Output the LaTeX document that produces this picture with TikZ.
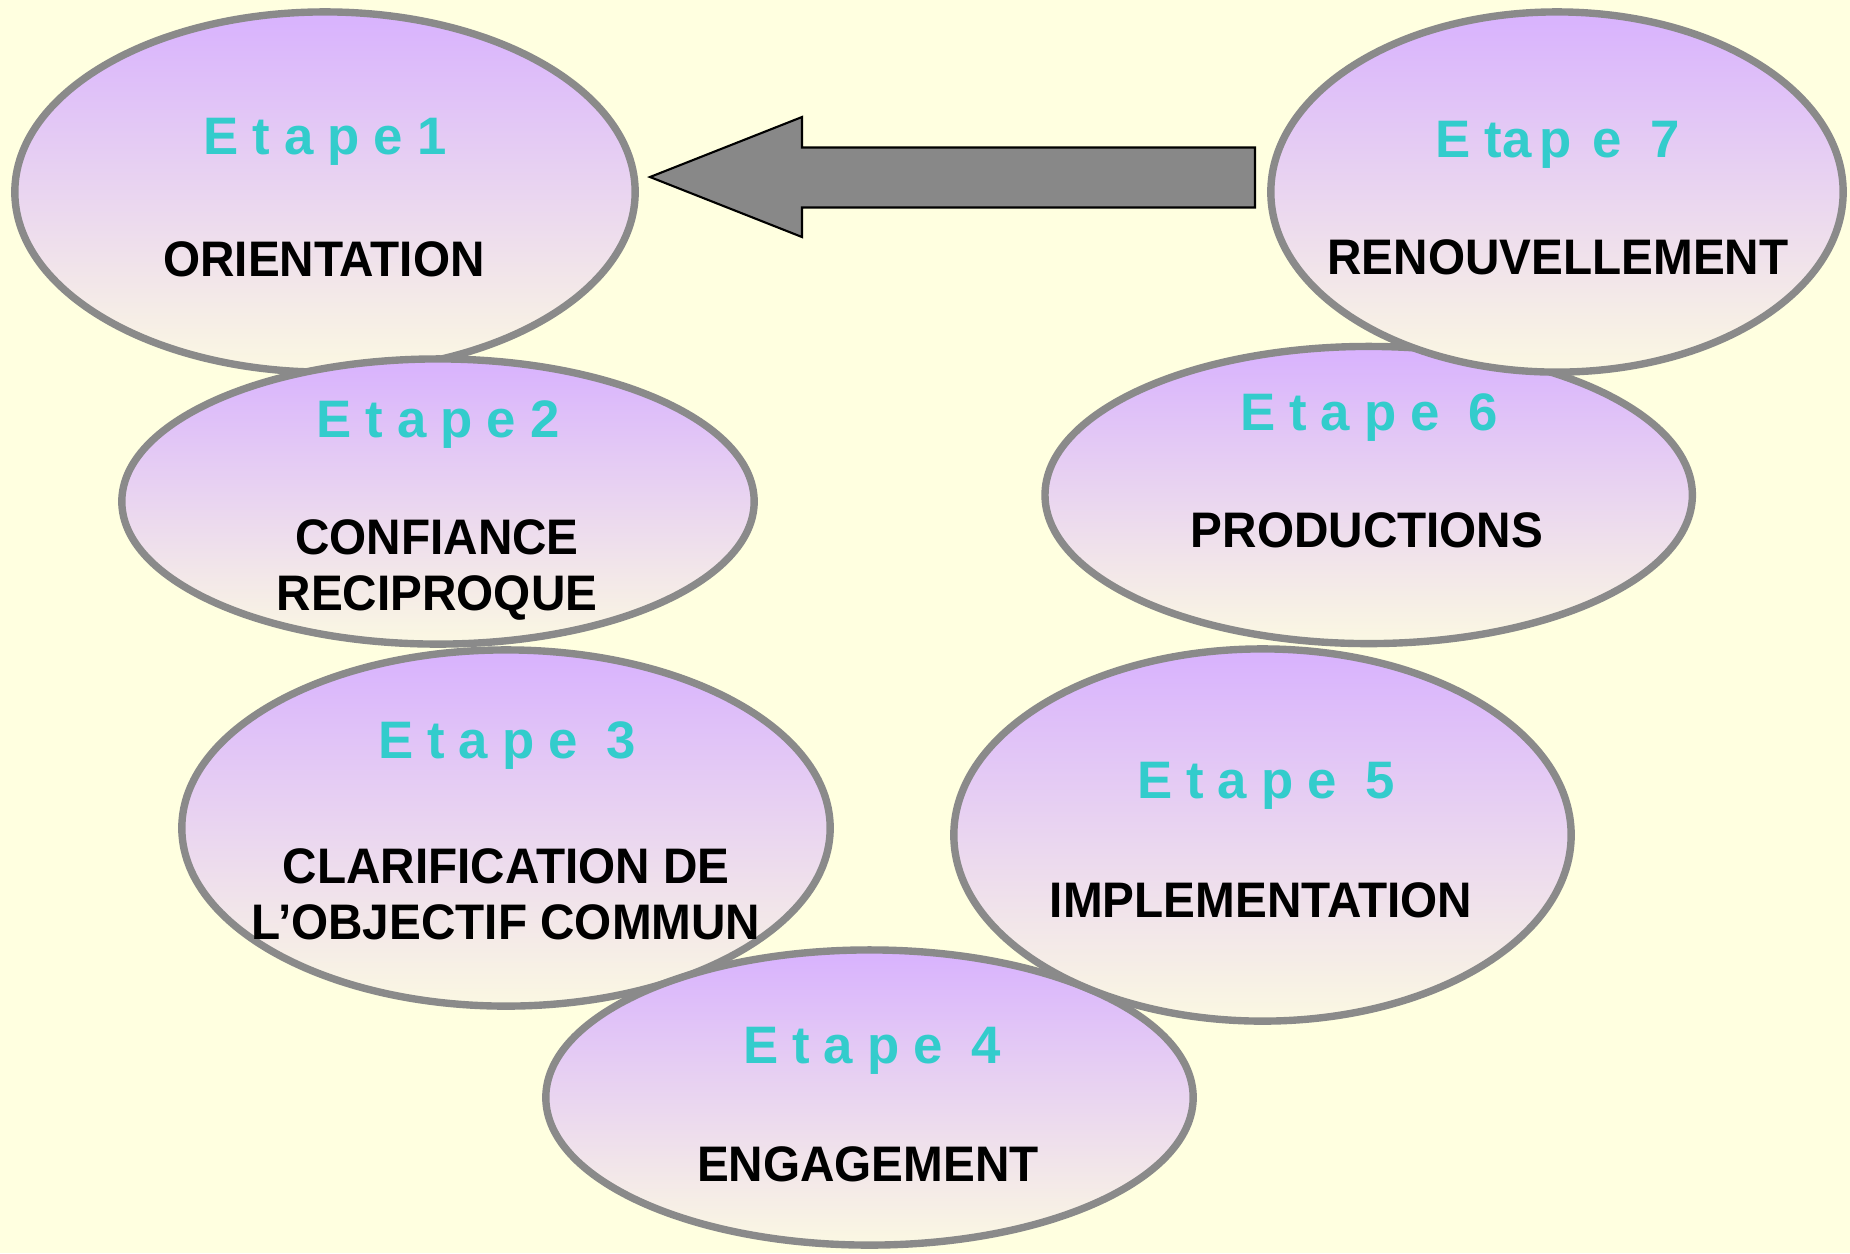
\documentclass[tikz,border=0pt]{standalone}
\usepackage{fontspec}
\setmainfont{Liberation Sans}
\newfontfamily\lblfont[FakeStretch=0.955]{Liberation Sans}
\usetikzlibrary{shapes.geometric}
\definecolor{bgc}{HTML}{FFFFE0}
\definecolor{ringc}{HTML}{8A8A8A}
\definecolor{topc}{HTML}{D8B2FE}
\definecolor{botc}{HTML}{FBF8E2}
\definecolor{stepc}{HTML}{33CCCC}
\definecolor{arrowc}{HTML}{888888}
\tikzset{
  stage/.style={ellipse, draw=ringc, line width=2.1pt, top color=topc, bottom color=botc, inner sep=0pt, outer sep=0pt},
  steplbl/.style={text=stepc, font=\fontsize{15}{18}\selectfont\bfseries, inner sep=0pt, anchor=base},
  namelbl/.style={text=black, font=\lblfont\fontsize{14.2}{16}\selectfont\bfseries, inner sep=0pt, align=center},
  bigarrow/.style={fill=arrowc, draw=black, line width=0.6pt},
}
\newcommand\gp{\hspace{4pt}}
\begin{document}
\begin{tikzpicture}[x=0.01cm,y=-0.01cm]
\fill[bgc] (0,0) rectangle (1850,1253);
\useasboundingbox (0,0) rectangle (1850,1253);

% Stage 1
\node[stage, minimum width=6.20cm, minimum height=3.60cm] (e1) at (325,192) {};
\node[steplbl] (s1) at (325,154) {E\gp t\gp a\gp p\gp e\gp 1};
\node[namelbl, anchor=base] (n1) at (324,276) {ORIENTATION};

% Stage 2
\node[stage, minimum width=6.32cm, minimum height=2.85cm] (e2) at (438,501.5) {};
\node[steplbl] (s2) at (438,437) {E\gp t\gp a\gp p\gp e\gp 2};
\node[namelbl, anchor=center] (n2) at (437,570) {CONFIANCE\\RECIPROQUE};

% Stage 3
\node[stage, minimum width=6.48cm, minimum height=3.56cm] (e3) at (506,828) {};
\node[steplbl] (s3) at (507,758) {E\gp t\gp a\gp p\gp e\gp\ 3};
\node[namelbl, anchor=center] (n3) at (506,894) {CLARIFICATION DE\\L’OBJECTIF COMMUN};

% Stage 4
\node[stage, minimum width=6.47cm, minimum height=2.95cm] (e4) at (869.5,1097.5) {};
\node[steplbl] (s4) at (872,1063) {E\gp t\gp a\gp p\gp e\gp\ 4};
\node[namelbl, anchor=base] (n4) at (868,1181) {ENGAGEMENT};

% Stage 5
\node[stage, minimum width=6.17cm, minimum height=3.72cm] (e5) at (1262.5,835) {};
\node[steplbl] (s5) at (1266,798) {E\gp t\gp a\gp p\gp e\gp\ 5};
\node[namelbl, anchor=base] (n5) at (1261,917) {IMPLEMENTATION};

% Stage 6
\node[stage, minimum width=6.47cm, minimum height=2.97cm] (e6) at (1368.7,495) {};
\node[steplbl] (s6) at (1369,430) {E\gp t\gp a\gp p\gp e\gp\ 6};
\node[namelbl, anchor=base] (n6) at (1367,547) {PRODUCTIONS};

% Stage 7
\node[stage, minimum width=5.72cm, minimum height=3.60cm] (e7) at (1557,192) {};
\node[steplbl] (s7) at (1558,157) {E\gp ta\hspace{2.1pt}p\hspace{6.1pt}e\ \hspace{4pt}7};
\node[namelbl, anchor=base] (n7) at (1558,274) {RENOUVELLEMENT};

% Block arrow from stage 7 back to stage 1
\coordinate (tip) at (650,177);
\coordinate (tail) at (1255,177);
\draw[bigarrow] (tip) -- (802,117) -- (802,147.5) -- (tail |- 0,147.5) -- (tail |- 0,207.5) -- (802,207.5) -- (802,237) -- cycle;
\end{tikzpicture}
\end{document}
